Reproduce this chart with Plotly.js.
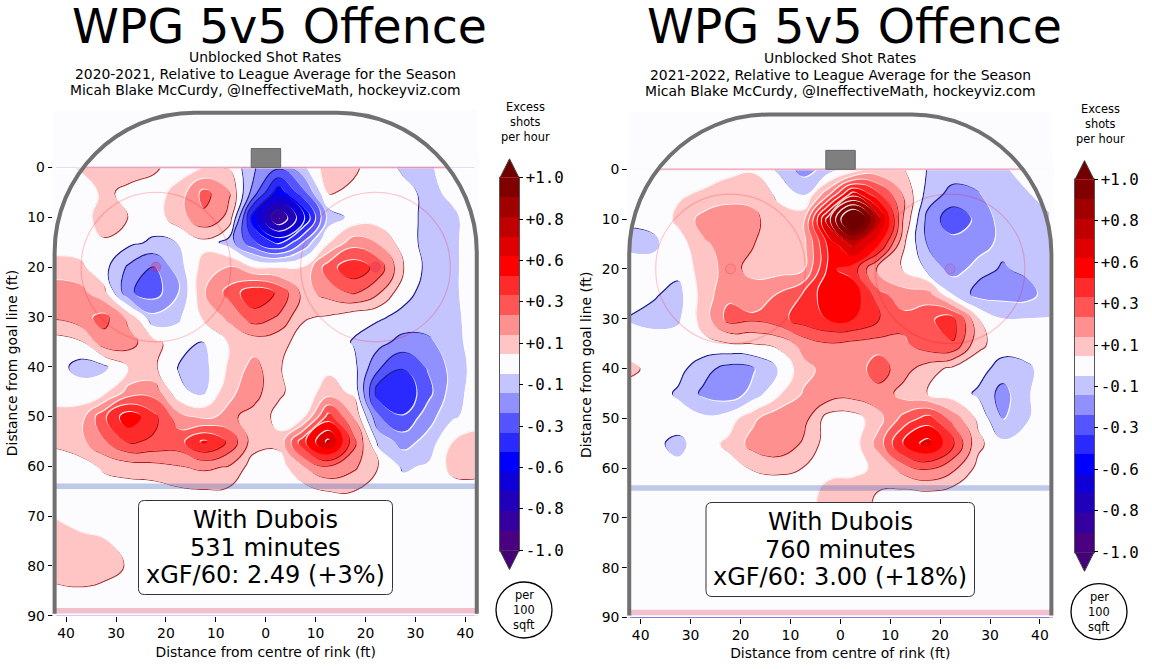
<!DOCTYPE html>
<html><head><meta charset="utf-8">
<script src="https://cdn.plot.ly/plotly-3.0.1.min.js"></script>
<style>html,body{margin:0;padding:0;background:#fff}#c{width:1152px;height:669px}</style></head>
<body><div id="c"></div>
<script>
const xFt=[-42.5,-37.5,-32.5,-27.5,-22.5,-17.5,-12.5,-7.5,-2.5,2.5,7.5,12.5,17.5,22.5,27.5,32.5,37.5,42.5];
const yFt=[0,5,10,15,20,25,30,35,40,45,50,55,60,65,70,75,80,85,90];
const zLeft=[
[0,.06,.11,.09,.07,0,.06,.05,-.15,-.25,-.08,.12,.07,0,-.07,-.07,0,0],
[0,0,.07,.03,0,.1,.3,.17,-.22,-.55,-.3,.06,.03,0,-.02,-.08,-.03,0],
[0,0,.1,.05,0,.11,.24,.13,-.55,-.9,-.6,-.12,-.02,0,0,-.09,-.07,0],
[0,0,.04,-.03,-.07,-.05,.02,-.1,-.35,-.5,-.25,.05,.22,.15,0,-.09,-.07,0],
[.1,.08,-.02,-.18,-.27,-.1,.1,.17,.06,.05,.07,.33,.44,.33,.06,-.09,-.07,0],
[.22,.2,.08,-.25,-.31,-.17,.15,.3,.45,.35,.12,.2,.28,.17,-.02,-.09,-.07,0],
[.17,.22,.3,.12,-.13,-.07,.07,.18,.32,.25,.06,.04,-.02,-.04,-.08,-.1,-.08,0],
[0,.03,.22,.2,.08,0,-.06,.06,.1,.08,.02,0,-.06,-.12,-.2,-.18,-.09,0],
[0,-.09,-.08,.06,.07,-.06,-.09,.07,.2,.06,0,.03,-.02,-.25,-.36,-.25,-.12,0],
[.03,0,.03,.2,.22,-.03,-.08,.14,.2,.07,0,.1,.03,-.43,-.45,-.3,-.1,0],
[.07,.1,.35,.55,.4,.2,.14,.18,.12,.02,.05,.42,.15,-.25,-.36,-.2,-.07,0],
[.07,.12,.25,.38,.35,.33,.5,.35,.1,.08,.45,.72,.3,-.08,-.2,-.12,.06,.1],
[0,0,.07,.1,.12,.15,.18,.15,0,0,.15,.25,.18,.05,-.07,-.04,.09,.1],
[0,0,0,0,0,.03,.04,.03,0,0,0,.05,.05,0,0,0,0,0],
[.05,0,0,0,0,0,0,0,0,0,0,0,0,0,0,0,0,0],
[.1,.09,.06,.02,0,0,0,0,0,0,0,0,0,0,0,0,0,0],
[.1,.11,.1,.04,0,0,0,0,0,0,0,0,0,0,0,0,0,0],
[.03,.04,.02,0,0,0,0,0,0,0,0,0,0,0,0,0,0,0],
[0,0,0,0,0,0,0,0,0,0,0,0,0,0,0,0,0,0]];
const zRight=[
[0,0,0,0,.03,.04,-.07,-.2,-.12,0,.09,.06,-.06,-.1,-.09,-.07,0,0],
[0,0,.04,.07,.1,.13,.03,-.06,.25,.65,.4,.15,-.1,-.2,-.17,-.07,-.06,0],
[-.04,-.03,.08,.2,.25,.18,.1,.13,.75,1.25,.75,.15,-.2,-.33,-.24,-.11,-.08,-.06],
[-.08,-.07,0,.14,.2,.16,.11,.12,.5,.72,.5,.07,-.17,-.22,-.2,-.13,-.07,-.07],
[0,-.02,-.02,.1,.2,.12,.12,.15,.5,.42,.12,.05,-.08,-.2,-.12,-.17,-.13,-.07],
[0,-.04,-.09,.1,.24,.22,.27,.38,.55,.55,.3,.2,.2,-.06,-.2,-.2,-.2,-.09],
[-.06,-.09,-.07,.1,.3,.28,.33,.42,.48,.48,.38,.3,.35,.42,.06,-.05,-.05,-.05],
[0,0,0,.02,.04,.05,.08,.2,.25,.23,.22,.24,.33,.36,.08,0,0,0],
[.08,.02,-.02,-.12,-.2,-.17,-.05,.12,.2,.2,.32,.2,.1,.02,-.01,-.1,-.07,0],
[0,0,-.07,-.18,-.22,-.12,.04,.17,.22,.2,.22,.12,.05,0,-.07,-.2,-.06,0],
[0,0,0,-.03,0,.14,.24,.2,0,0,.12,.3,.42,.22,.03,-.17,-.06,0],
[0,-.03,-.08,0,.08,.2,.25,.14,0,0,.2,.5,.62,.38,.08,-.03,0,0],
[0,0,-.03,0,0,.06,.07,.05,.02,.03,.07,.2,.27,.18,.02,0,0,0],
[0,0,0,0,0,0,0,0,.09,.1,.05,.02,.03,0,0,0,0,0],
[0,0,0,0,0,0,0,0,.08,.08,.03,0,0,0,0,0,0,0],
[0,0,0,0,0,0,0,0,0,0,0,0,0,0,0,0,0,0],
[0,0,0,0,0,0,0,0,0,0,0,0,0,0,0,0,0,0],
[0,0,0,0,0,0,0,0,0,0,0,0,0,0,0,0,0,0],
[0,0,0,0,0,0,0,0,0,0,0,0,0,0,0,0,0,0]];
const bandColours=['#45007a','#4b0082','#3500a0','#2000b8','#0f00d8','#0000ff','#2a2aff','#5555ff','#9090ff','#c4c4ff','#fcfcff',
 '#ffc4c4','#ff9090','#ff5555','#ff2a2a','#ff0000','#e00000','#c00000','#a00000','#800000','#700000'];
const cbTickVals=[1,.7778,.5556,.3333,.1111,-.1111,-.3333,-.5556,-.7778,-1];
const cbTickText=['+1.0','+0.8','+0.6','+0.3','+0.1','-0.1','-0.3','-0.6','-0.8','-1.0'];
const xTickVals=[-40,-30,-20,-10,0,10,20,30,40];
const xTickText=['40','30','20','10','0','10','20','30','40'];
const yTickVals=[0,10,20,30,40,50,60,70,80,90];
const seasons=['2020-2021','2021-2022'];
const minutes=['531 minutes','760 minutes'];
const xgf=['xGF/60: 2.49 (+3%)','xGF/60: 3.00 (+18%)'];

const W=1152,H=669,SANS='DejaVu Sans',MONO='DejaVu Sans Mono, monospace';
const step=2/19,BODY=13.9,SMALL=11.4;
const scale=[];bandColours.forEach((c,i)=>{scale.push([i/21,c]);scale.push([(i+1)/21,c]);});
const geo=[
 {cx:265.7,y0:167.5,z:zLeft,xa:'x',ya:'y',cbx:500,cbTop:177.8,dotFill:'rgba(220,40,90,.3)',
  subC:265,titleC:279.5,exY:107,perC:[524,610],perY:[595,610,625],
  box:[138.5,500.5,392.5,594.5],boxC:265.7},
 {cx:840.3,y0:169.3,z:zRight,xa:'x2',ya:'y2',cbx:1075,cbTop:179.6,dotFill:'rgba(255,0,0,.05)',
  subC:840,titleC:854.5,exY:109,perC:[1099,611.7],perY:[597,612,627],
  box:[706,502.5,974.5,596.5],boxC:840.3}];
const K=4.99,KY=4.98,CBLEN=372.7,CBX=CBLEN*step/4;
const py=y=>1-y/H;
const data=[],shapes=[],annotations=[];
const layout={width:W,height:H,margin:{l:0,r:0,t:0,b:0,autoexpand:false},paper_bgcolor:'#fff',plot_bgcolor:'#fff',showlegend:false,shapes,annotations,font:{family:SANS,color:'#000',size:BODY}};
function ann(text,x,y,size,family){annotations.push({text,x:x/W,y:py(y),xref:'paper',yref:'paper',xanchor:'center',yanchor:'middle',showarrow:false,font:{size,family:family||SANS,color:'#000'}});}
geo.forEach((g,i)=>{
 const fx=v=>(g.cx+v*K)/W, fy=v=>py(g.y0+v*KY);
 const ft=i?'2':'';
 const xL=g.cx-42.5*K,xR=g.cx+42.5*K,yT=g.y0-11.5*KY,yB=g.y0+90*KY;
 data.push({type:'contour',x:xFt,y:yFt,z:g.z,xaxis:g.xa,yaxis:g.ya,autocontour:false,
  contours:{start:-1,end:1,size:step,coloring:'fill',showlines:false},line:{width:0,smoothing:1.3},
  colorscale:scale,hoverinfo:'skip',
  colorbar:{x:g.cbx/W,xanchor:'left',xref:'paper',yref:'paper',y:py(g.cbTop-CBX),yanchor:'top',len:CBLEN+2*CBX,lenmode:'pixels',thickness:19,thicknessmode:'pixels',xpad:0,ypad:0,
   outlinewidth:0,ticks:'outside',ticklen:4,tickwidth:1,tickcolor:'#000',tickmode:'array',tickvals:cbTickVals,ticktext:cbTickText,tickfont:{family:MONO,size:15.8,color:'#000'}}});
 const axX={domain:[xL/W,xR/W],range:[-42.5,42.5],tickmode:'array',tickvals:xTickVals,ticktext:xTickText,ticks:'outside',ticklen:5,tickwidth:1,tickcolor:'#000',showgrid:false,zeroline:false,showline:false,anchor:i?'y2':'y',tickfont:{size:BODY},
  title:{text:'Distance from centre of rink (ft)',font:{size:BODY},standoff:6}};
 const axY={domain:[1-yB/H,1-yT/H],range:[90,-11.5],tickmode:'array',tickvals:yTickVals,ticks:'outside',ticklen:5,tickwidth:1,tickcolor:'#000',showgrid:false,zeroline:false,showline:false,anchor:i?'x2':'x',tickfont:{size:BODY},
  title:{text:'Distance from goal line (ft)',font:{size:BODY},standoff:6}};
 layout['xaxis'+ft]=axX;layout['yaxis'+ft]=axY;
 const S=o=>shapes.push(Object.assign({xref:'paper',yref:'paper'},o));
 S({type:'rect',x0:xL/W,x1:xR/W,y0:py(g.y0+89.4*KY),y1:py(yT),fillcolor:'#fcfcff',line:{width:0},layer:'below'});
 // tinted strips along the side edges, under the boards, so nothing shows outside the rounded corners
 S({type:'rect',x0:(xL-1.5)/W,x1:(xL+2.4)/W,y0:py(yB),y1:py(g.y0-2*KY),fillcolor:'#fcfcff',line:{width:0}});
 S({type:'rect',x0:(xR-3.2)/W,x1:(xR+1.5)/W,y0:py(yB),y1:py(g.y0-2*KY),fillcolor:'#fcfcff',line:{width:0}});
 S({type:'line',x0:fx(-36.8),x1:fx(36.8),y0:fy(0),y1:fy(0),line:{color:'rgba(230,60,90,.35)',width:2}});
 S({type:'line',x0:fx(-42.5),x1:fx(42.5),y0:fy(64),y1:fy(64),line:{color:'rgba(60,90,180,.32)',width:5.5}});
 S({type:'line',x0:fx(-42.5),x1:fx(42.5),y0:fy(89),y1:fy(89),line:{color:'rgba(230,120,140,.45)',width:5.5}});
 [-22,22].forEach(c=>{
  S({type:'circle',x0:fx(c-15),x1:fx(c+15),y0:fy(5),y1:fy(35),line:{color:'rgba(255,0,0,.2)',width:1.2}});
  S({type:'circle',x0:fx(c-1),x1:fx(c+1),y0:fy(19),y1:fy(21),fillcolor:g.dotFill,line:{color:'rgba(220,40,90,.3)',width:1}});
 });
 S({type:'rect',x0:fx(-2.9),x1:fx(3),y0:fy(-3.8),y1:fy(0),fillcolor:'#7f7f7f',line:{color:'#666',width:1}});
 const R=28,k=R*0.5523,E=42.3,T=-11,C=T+R;
 const P=(a,b)=>`${fx(a)} ${fy(b)}`;
 S({type:'path',path:`M${P(-E,89.6)} L${P(-E,C)} C${P(-E,C-k)} ${P(-E+R-k,T)} ${P(-E+R,T)} L${P(E-R,T)} C${P(E-R+k,T)} ${P(E,C-k)} ${P(E,C)} L${P(E,89.6)}`,line:{color:'#707070',width:4}});
 const [a,b,c,d]=g.box,r=6,xx=v=>v/W,yy=v=>py(v);
 const Q=(u,v)=>`${xx(u)} ${yy(v)}`;
 S({type:'path',path:`M${Q(a+r,b)} L${Q(c-r,b)} Q${Q(c,b)} ${Q(c,b+r)} L${Q(c,d-r)} Q${Q(c,d)} ${Q(c-r,d)} L${Q(a+r,d)} Q${Q(a,d)} ${Q(a,d-r)} L${Q(a,b+r)} Q${Q(a,b)} ${Q(a+r,b)} Z`,fillcolor:'#fff',line:{color:'#333',width:1}});
 const by=(b+d)/2;
 ann('With Dubois',g.boxC,by-28,24);ann(minutes[i],g.boxC,by,24);ann(xgf[i],g.boxC,by+27.5,24);
 const off=i?1.8:0;
 ann('WPG 5v5 Offence',g.titleC,26,47.4);
 ann('Unblocked Shot Rates',g.subC,57+off*.6,BODY);
 ann(seasons[i]+', Relative to League Average for the Season',g.subC,74+off*.6,BODY);
 ann('Micah Blake McCurdy, @IneffectiveMath, hockeyviz.com',g.subC,90+off*.6,BODY);
 const cbc=g.cbx+25;
 ann('Excess',cbc,g.exY,SMALL);ann('shots',cbc,g.exY+15,SMALL);ann('per hour',cbc,g.exY+30,SMALL);
 const top=g.cbTop,bot=g.cbTop+CBLEN,L=g.cbx,Rr=g.cbx+19,M=g.cbx+9.5;
 S({type:'rect',x0:xx(L),x1:xx(Rr),y0:yy(bot),y1:yy(top),line:{color:'#555',width:2}});
 S({type:'path',path:`M${xx(L)} ${yy(top)} L${xx(M)} ${yy(top-19)} L${xx(Rr)} ${yy(top)} Z`,fillcolor:bandColours[20],line:{color:'#444',width:1}});
 S({type:'path',path:`M${xx(L)} ${yy(bot)} L${xx(M)} ${yy(bot+19)} L${xx(Rr)} ${yy(bot)} Z`,fillcolor:bandColours[0],line:{color:'#444',width:1}});
 S({type:'circle',x0:xx(g.perC[0]-28),x1:xx(g.perC[0]+28),y0:yy(g.perC[1]+28),y1:yy(g.perC[1]-28),line:{color:'#000',width:1.3}});
 ['per','100','sqft'].forEach((t,j)=>ann(t,g.perC[0],g.perY[j],SMALL));
});
Plotly.newPlot('c',data,layout,{displayModeBar:false,staticPlot:true}).then(gd=>{
 const ns='http://www.w3.org/2000/svg';
 const lit=`<feFlood flood-color="#fff" flood-opacity=".9" result="w"/>
 <feComposite in="w" in2="SourceAlpha" operator="in" result="wAll"/>
 <feComposite in="wAll" in2="off" operator="out" result="lit"/>`;
 const head=id=>`<filter id="${id}" x="-3%" y="-3%" width="106%" height="106%" color-interpolation-filters="sRGB">
 <feOffset in="SourceGraphic" dx="1.2" dy="1.2" result="off"/>`;
 const mk=(id,rim)=>head(id)+rim+`<feComposite in="dark" in2="SourceGraphic" operator="out" result="darkRim"/>`+lit+
 `<feMerge><feMergeNode in="darkRim"/><feMergeNode in="SourceGraphic"/><feMergeNode in="lit"/></feMerge></filter>`;
 const red=mk('bevR','<feColorMatrix in="off" type="matrix" values="0 0 0 0 .62 0 2 0 0 -1.45 0 0 2 0 -1.45 0 0 0 .85 0" result="dark"/>');
 const blue=mk('bevB','<feFlood flood-color="#20208c" result="fl"/><feComposite in="fl" in2="off" operator="in" result="dark"/>');
 const high=head('bevH')+lit+`<feMerge><feMergeNode in="SourceGraphic"/><feMergeNode in="lit"/></feMerge></filter>`;
 const holder=document.createElementNS(ns,'svg');
 holder.setAttribute('width',0);holder.setAttribute('height',0);holder.style.position='absolute';
 holder.innerHTML='<defs>'+red+blue+high+'</defs>';
 document.body.appendChild(holder);
 gd.querySelectorAll('.contourfill path').forEach(p=>{
  const m=getComputedStyle(p).fill.match(/\d+/g);if(!m)return;
  const [r,g,b]=m.map(Number);
  const deep=(r>b&&g===0)||(b>r&&r<32);
  p.setAttribute('filter',deep?'url(#bevH)':(r>b?'url(#bevR)':'url(#bevB)'));
 });
 gd.querySelectorAll('.colorbar').forEach(cb=>{
  const rects=[...cb.querySelectorAll('.cbfill')];if(!rects.length)return;
  const ys=rects.map(r=>+r.getAttribute('y')),bs=rects.map(r=>+r.getAttribute('y')+(+r.getAttribute('height')));
  const lo=Math.min(...ys)+CBX,hi=Math.max(...bs)-CBX;
  rects.forEach((r,j)=>{const y=Math.max(ys[j],lo),e=Math.min(bs[j],hi);r.setAttribute('y',y);r.setAttribute('height',Math.max(0,e-y));});
 });
});
</script></body></html>
